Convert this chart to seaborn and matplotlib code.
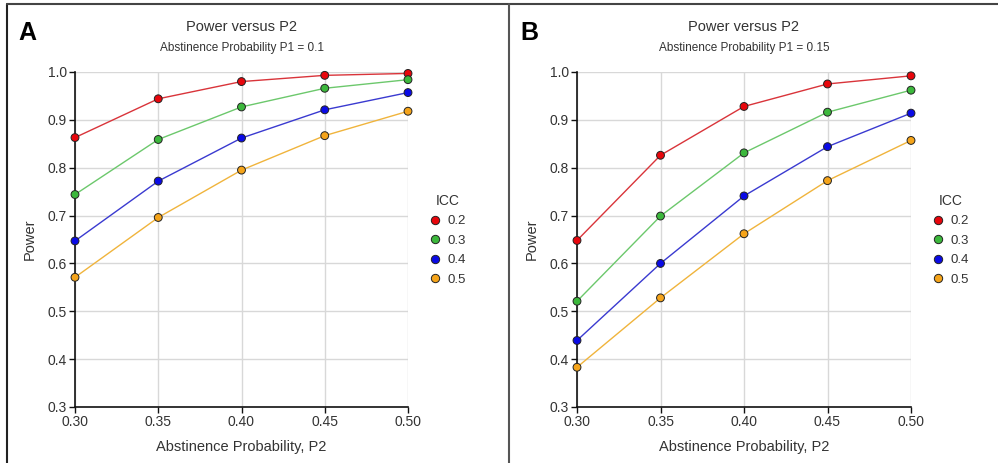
import matplotlib
matplotlib.use("Agg")
import matplotlib.pyplot as plt
from matplotlib.lines import Line2D
import seaborn as sns
import pandas as pd

p2_values = [0.30, 0.35, 0.40, 0.45, 0.50]
icc_levels = ["0.2", "0.3", "0.4", "0.5"]

# Panel A: P1 = 0.1
power_a_icc02 = [0.863, 0.944, 0.980, 0.993, 0.997]
power_a_icc03 = [0.744, 0.859, 0.927, 0.966, 0.984]
power_a_icc04 = [0.647, 0.772, 0.862, 0.921, 0.957]
power_a_icc05 = [0.571, 0.696, 0.795, 0.867, 0.918]

# Panel B: P1 = 0.15
power_b_icc02 = [0.648, 0.826, 0.928, 0.975, 0.992]
power_b_icc03 = [0.521, 0.699, 0.831, 0.916, 0.962]
power_b_icc04 = [0.439, 0.600, 0.741, 0.844, 0.914]
power_b_icc05 = [0.383, 0.528, 0.662, 0.773, 0.857]

panel_letters = ["A", "B"]
panel_subtitles = ["Abstinence Probability P1 = 0.1", "Abstinence Probability P1 = 0.15"]
y_ticks = [0.3, 0.4, 0.5, 0.6, 0.7, 0.8, 0.9, 1.0]
x_ticks = [0.30, 0.35, 0.40, 0.45, 0.50]

marker_colors = {"0.2": "#e8060c", "0.3": "#3cb83c", "0.4": "#0a0ae6", "0.5": "#f5a41a"}
line_colors = {"0.2": "#d9343a", "0.3": "#6cc86c", "0.4": "#3a3ad0", "0.5": "#f0b43c"}


def make_df(series):
    rows = []
    for icc, vals in zip(icc_levels, series):
        for x, v in zip(p2_values, vals):
            rows.append({"P2": x, "Power": v, "ICC": icc})
    return pd.DataFrame(rows)


df_a = make_df([power_a_icc02, power_a_icc03, power_a_icc04, power_a_icc05])
df_b = make_df([power_b_icc02, power_b_icc03, power_b_icc04, power_b_icc05])

sns.set_theme(style="white")
plt.rcParams["font.family"] = ["Liberation Sans", "DejaVu Sans"]

W, H = 998, 463
fig = plt.figure(figsize=(W / 100, H / 100), dpi=100)
fig.patch.set_facecolor("white")

axes_px = [(75, 408), (577, 911)]
top_px, bot_px = 72, 407

for i, (df, (x0, x1)) in enumerate(zip([df_a, df_b], axes_px)):
    ax = fig.add_axes([x0 / W, 1 - bot_px / H, (x1 - x0) / W, (bot_px - top_px) / H])
    ax.set_facecolor("white")
    # lines
    sns.lineplot(data=df, x="P2", y="Power", hue="ICC", palette=line_colors,
                 hue_order=icc_levels, linewidth=1.0, legend=False, ax=ax, zorder=3)
    # markers
    sns.scatterplot(data=df, x="P2", y="Power", hue="ICC", palette=marker_colors,
                    hue_order=icc_levels, s=32, edgecolor="#222222", linewidth=0.7,
                    legend=False, ax=ax, zorder=4, clip_on=False)
    ax.set_xlim(0.30, 0.50)
    ax.set_ylim(0.3, 1.0)
    ax.set_xticks(x_ticks)
    ax.set_xticklabels([f"{t:.2f}" for t in x_ticks])
    ax.set_yticks(y_ticks)
    ax.set_yticklabels([f"{t:.1f}" for t in y_ticks])
    ax.grid(True, color="#d8d8d8", linewidth=1.0, zorder=0)
    ax.set_axisbelow(True)
    for s in ["top", "right"]:
        ax.spines[s].set_visible(False)
    for s in ["left", "bottom"]:
        ax.spines[s].set_color("#111111")
        ax.spines[s].set_linewidth(1.2)
    ax.tick_params(axis="both", which="both", direction="out", length=4, width=1,
                   color="#111111", labelsize=10, labelcolor="#333333", pad=2,
                   bottom=True, left=True)
    ax.set_xlabel("Abstinence Probability, P2", fontsize=10.5, color="#333333", labelpad=8)
    ax.set_ylabel("Power", fontsize=10.5, color="#333333", labelpad=8)

    cx = (x0 + x1) / 2 / W
    fig.text(cx, 1 - 27 / H, "Power versus P2", ha="center", va="center",
             fontsize=10.5, color="#333333")
    fig.text(cx, 1 - 48 / H, panel_subtitles[i], ha="center", va="center",
             fontsize=8.5, color="#333333")
    fig.text((x0 - 57) / W, 1 - 33 / H, panel_letters[i], ha="left", va="center",
             fontsize=18, fontweight="bold", color="black")

    handles = [Line2D([0], [0], linestyle="none", marker="o", markersize=6,
                      markerfacecolor=marker_colors[k], markeredgecolor="#222222",
                      markeredgewidth=0.7) for k in icc_levels]
    leg = ax.legend(handles, icc_levels, title="ICC", loc="upper left",
                    bbox_to_anchor=((x1 + 22) / W, 1 - 194 / H),
                    bbox_transform=fig.transFigure, frameon=False, fontsize=9.5,
                    title_fontsize=10, borderpad=0, handlelength=0.8,
                    handletextpad=0.5, labelspacing=0.55, borderaxespad=0)
    for t in leg.get_texts():
        t.set_color("#333333")
    leg.get_title().set_color("#333333")

# panel borders
fig.add_artist(Line2D([7 / W, 7 / W], [0, 1 - 4 / H], color="#222222", linewidth=1.5,
                      transform=fig.transFigure))
fig.add_artist(Line2D([7 / W, 1], [1 - 4 / H, 1 - 4 / H], color="#444444", linewidth=1.5,
                      transform=fig.transFigure))
fig.add_artist(Line2D([509 / W, 509 / W], [0, 1 - 4 / H], color="#555555", linewidth=1.5,
                      transform=fig.transFigure))

fig.savefig("out.png", dpi=100, facecolor="white")
